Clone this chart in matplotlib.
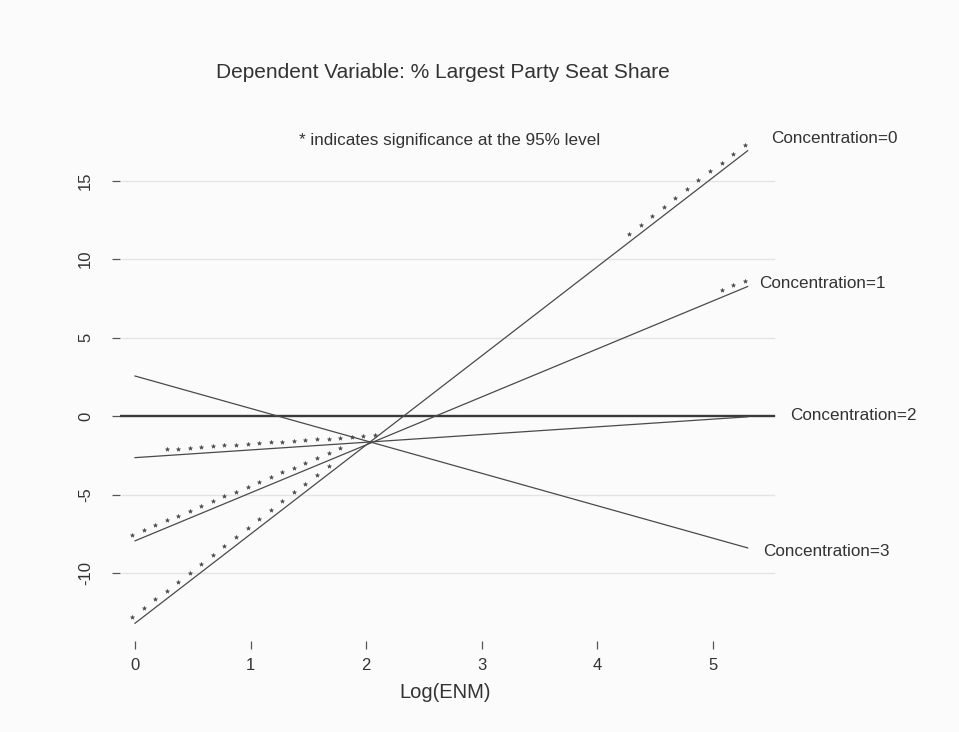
import numpy as np
import matplotlib
matplotlib.use("Agg")
import matplotlib.pyplot as plt
from matplotlib.transforms import offset_copy

# Predicted effect of Log(ENM) at four levels of concentration
concentration = [0, 1, 2, 3]
conc_labels = ["Concentration=0", "Concentration=1",
               "Concentration=2", "Concentration=3"]
x_start = 0.0
x_end = 5.3
y_start = [-13.2, -7.95, -2.65, 2.55]
y_end = [16.9, 8.25, -0.05, -8.4]

# stretches of Log(ENM) where the effect is significant (marked with *)
sig_ranges = [[(0.0, 1.7), (4.3, 5.3)],
              [(0.0, 1.8), (5.1, 5.3)],
              [(0.3, 2.1)],
              []]
star_step = 0.1

y_ticks = [-10, -5, 0, 5, 10, 15]
x_ticks = [0, 1, 2, 3, 4, 5]

# label anchor points (data coords)
label_pos = [(5.50, 17.7), (5.40, 8.47), (5.67, 0.06), (5.43, -8.66)]

plt.rcParams['font.family'] = ['Liberation Sans', 'DejaVu Sans']
txt_col = "#333333"
line_col = "#4a4a4a"
bg = "#fbfbfb"

fig = plt.figure(figsize=(9.59, 7.32), dpi=100, facecolor=bg)
W, H = 959.0, 732.0
ax = fig.add_axes([120 / W, 1 - 641 / H, 660 / W, 481 / H])
ax.set_facecolor(bg)
ax.set_xlim(-0.13, 5.58)
ax.set_ylim(-14.33, 16.31)

for s in ax.spines.values():
    s.set_visible(False)

# faint reference lines
for yv in y_ticks:
    if yv == 0:
        continue
    ax.plot([-0.11, 5.53], [yv, yv], color="#e4e4e4", lw=1.0, zorder=1)
ax.plot([-0.13, 5.53], [0, 0], color="#3a3a3a", lw=1.7, zorder=2)

star_tr = offset_copy(ax.transData, fig=fig, x=-3, y=6, units='dots')

for i, c in enumerate(concentration):
    ax.plot([x_start, x_end], [y_start[i], y_end[i]], color=line_col,
            lw=0.9, zorder=3, clip_on=False)
    for a, b in sig_ranges[i]:
        xs = np.round(np.arange(a, b + star_step / 2, star_step), 2)
        ys = np.interp(xs, [x_start, x_end], [y_start[i], y_end[i]])
        ax.plot(xs, ys, ls="none", marker="*", ms=3.2, color="#444444",
                mew=0.3, transform=star_tr, zorder=4, clip_on=False)
    lx, ly = label_pos[i]
    ax.text(lx, ly, conc_labels[i], ha="left", va="center", fontsize=12.3,
            color=txt_col, clip_on=False)

ax.set_xticks(x_ticks)
ax.set_yticks(y_ticks)
ax.set_xticklabels([str(v) for v in x_ticks])
ax.set_yticklabels([str(v) for v in y_ticks], rotation=90, va="center")
ax.tick_params(axis="x", length=5.5, width=0.9, color="#555555",
               labelsize=12, labelcolor=txt_col, pad=7)
ax.tick_params(axis="y", length=5.5, width=0.9, color="#555555",
               labelsize=12, labelcolor=txt_col, pad=14)

fig.text(443 / W, 1 - 72 / H, "Dependent Variable: % Largest Party Seat Share",
         ha="center", va="center", fontsize=15, color=txt_col)
fig.text(450 / W, 1 - 140 / H, "* indicates significance at the 95% level",
         ha="center", va="center", fontsize=12.3, color=txt_col)
fig.text(445 / W, 1 - 692 / H, "Log(ENM)", ha="center", va="center",
         fontsize=14.5, color=txt_col)

fig.savefig("out.png", dpi=100, facecolor=bg)
